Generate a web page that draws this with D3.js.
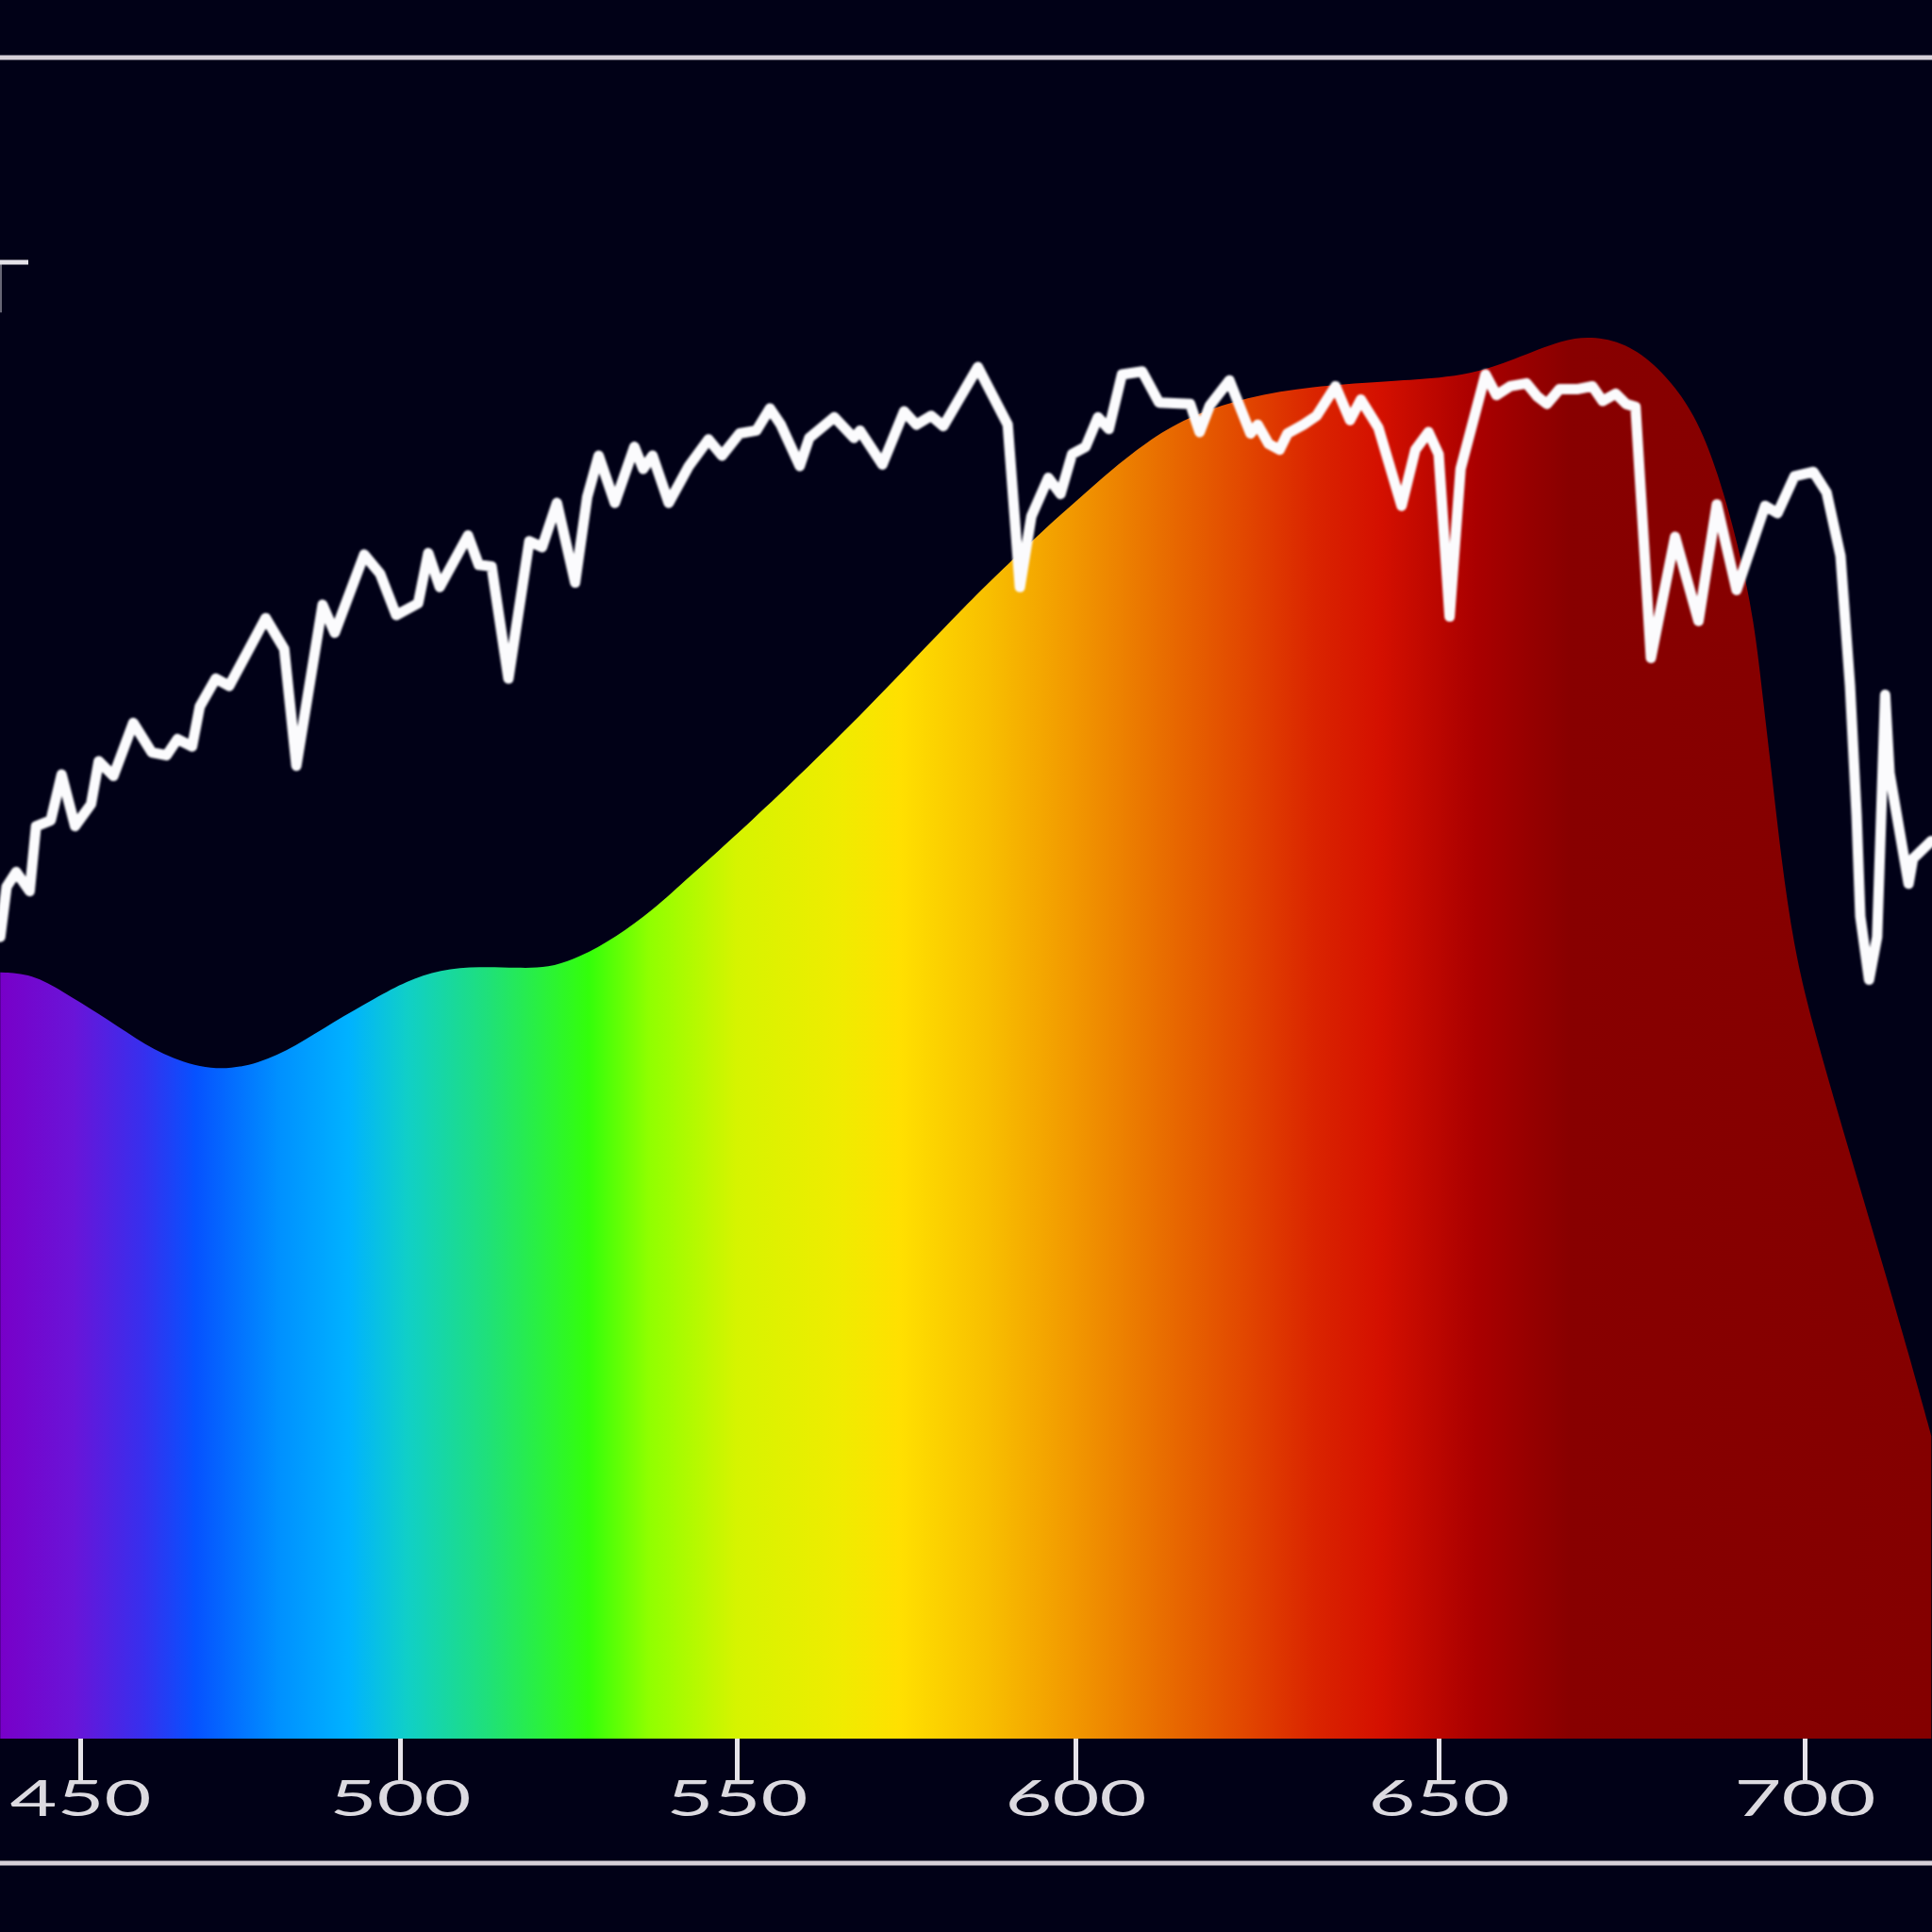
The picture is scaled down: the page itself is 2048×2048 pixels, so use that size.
<!DOCTYPE html>
<html>
<head>
<meta charset="utf-8">
<script src="https://cdn.jsdelivr.net/npm/d3@7"></script>
<style>
  html, body { margin: 0; padding: 0; background: #010117; }
  svg { display: block; }
</style>
</head>
<body>
<svg id="chart"></svg>
<script>
// wavelength ticks (nm) along the bottom axis
const tickWavelengths = [450, 500, 550, 600, 650, 700];

// solar spectrum (white line), relative intensity
const solarWavelengths = [
  437.5, 438.5, 440.0, 442.1, 443.1, 445.4, 447.1, 449.2, 451.7, 452.9,
  455.2, 458.3, 461.2, 463.5, 465.2, 467.5, 468.7, 471.2, 473.3, 479.0,
  481.9, 483.8, 487.9, 489.8, 494.4, 496.9, 499.4, 502.7, 504.2, 505.9,
  510.1, 511.7, 513.6, 516.1, 519.2, 521.1, 523.3, 526.0, 527.8, 529.5,
  531.9, 534.8, 536.1, 537.5, 539.9, 542.9, 545.8, 547.8, 550.4, 552.9,
  554.9, 556.5, 559.3, 560.7, 564.4, 567.3, 568.2, 571.5, 574.7, 576.5,
  578.7, 580.5, 585.6, 590.0, 591.8, 593.5, 596.0, 597.8, 599.5, 601.4,
  603.1, 604.6, 606.4, 609.2, 611.5, 615.8, 617.1, 618.5, 621.2, 624.1,
  625.1, 626.6, 628.1, 629.2, 631.4, 633.2, 635.8, 637.8, 639.3, 641.7,
  644.9, 646.8, 648.6, 650.0, 651.5, 653.0, 656.4, 657.9, 659.8, 662.0,
  663.5, 664.8, 666.5, 668.9, 671.0, 672.4, 674.2, 675.6, 676.9, 679.0,
  682.3, 685.5, 688.0, 690.7, 694.6, 696.3, 698.6, 701.2, 703.0, 704.9,
  706.2, 707.1, 707.6, 708.8, 709.9, 711.0, 711.6, 714.2, 714.8, 717.3
];
const solarIntensity = [
  54.3, 57.7, 58.7, 57.4, 61.8, 62.2, 65.3, 61.8, 63.3, 66.2,
  65.2, 68.8, 66.8, 66.6, 67.7, 67.2, 69.9, 71.8, 71.3, 75.9,
  73.8, 65.9, 76.8, 74.9, 80.2, 78.9, 76.1, 76.9, 80.3, 78.0,
  81.5, 79.5, 79.4, 71.8, 81.1, 80.7, 83.7, 78.3, 84.1, 86.9,
  83.7, 87.5, 86.0, 86.9, 83.7, 86.2, 88.0, 86.9, 88.4, 88.6,
  90.1, 89.0, 86.2, 88.1, 89.5, 88.1, 88.6, 86.3, 89.9, 89.0,
  89.6, 88.9, 92.9, 89.0, 78.0, 82.8, 85.4, 84.3, 87.0, 87.5,
  89.5, 88.7, 92.4, 92.6, 90.5, 90.4, 88.5, 90.3, 92.0, 88.4,
  89.0, 87.7, 87.3, 88.4, 89.0, 89.6, 91.6, 89.3, 90.7, 88.8,
  83.5, 87.3, 88.5, 87.0, 76.0, 86.0, 92.4, 91.0, 91.6, 91.8,
  90.9, 90.4, 91.4, 91.4, 91.6, 90.6, 91.1, 90.4, 90.2, 73.2,
  81.4, 75.7, 83.6, 77.8, 83.5, 83.0, 85.5, 85.8, 84.4, 80.1,
  71.3, 62.5, 55.7, 51.4, 54.3, 70.7, 65.4, 57.9, 59.6, 60.8
];

// filled colour band (smooth curve), relative intensity
const bandWavelengths = [
  437.5, 442.5, 447.3, 452.9, 458.7, 464.4, 471.3, 477.9, 483.7, 489.4,
  496.3, 500.9, 505.9, 511.9, 517.4, 522.0, 526.6, 532.1, 537.5, 543.0,
  550.4, 557.8, 568.5, 577.6, 586.0, 590.4, 595.8, 600.3, 604.6, 609.7,
  615.3, 623.6, 632.7, 642.0, 648.6, 654.4, 660.3, 667.0, 671.4, 676.1,
  680.5, 685.0, 688.2, 690.9, 693.1, 694.4, 695.5, 696.8, 698.5, 700.8,
  705.9, 710.9, 714.3, 717.3
];
const bandIntensity = [
  51.9, 51.8, 50.6, 49.1, 47.4, 46.0, 45.2, 45.7, 46.9, 48.5,
  50.2, 51.3, 52.1, 52.3, 52.2, 52.2, 52.9, 54.3, 56.1, 58.4,
  61.4, 64.6, 69.4, 73.8, 77.8, 79.7, 82.1, 83.9, 85.8, 87.8,
  89.5, 90.9, 91.6, 91.9, 92.1, 92.4, 93.4, 94.8, 95.0, 94.4,
  92.7, 89.8, 85.7, 80.9, 75.8, 70.0, 65.4, 59.6, 53.7, 48.8,
  40.1, 31.7, 25.9, 20.5
];

const width = 2048;
const height = 2048;
const baseY = 1843;

// the printed axis is not evenly spaced, so map each tick to its place
const x = d3.scaleLinear()
  .domain(tickWavelengths)
  .range([85, 424, 781, 1140, 1525, 1913]);

const y = d3.scaleLinear().domain([0, 100]).range([baseY, 278]);

const svg = d3.select("#chart")
  .attr("width", width)
  .attr("height", height)
  .attr("viewBox", [0, 0, width, height].join(" "));

svg.append("rect")
  .attr("width", width)
  .attr("height", height)
  .attr("fill", "#010117");

// rainbow gradient across wavelengths
const spectrumStops = [
  [437.5, "#7800c8"], [449, "#6a14d8"], [460, "#3630ee"], [468, "#0652ff"],
  [481, "#0090ff"], [492, "#00b2ff"], [501, "#10cfc8"], [513, "#1fe07a"],
  [528, "#33ff0a"], [537, "#90ff00"], [550, "#d6f400"], [565, "#efec00"],
  [574, "#ffe000"], [587, "#f8bf00"], [599, "#f29a00"], [613, "#e86a00"],
  [623, "#e24800"], [633, "#da2400"], [642, "#d41000"], [655, "#aa0000"],
  [668, "#880000"], [717.3, "#840000"]
];

const defs = svg.append("defs");
const grad = defs.append("linearGradient")
  .attr("id", "spectrum")
  .attr("gradientUnits", "userSpaceOnUse")
  .attr("x1", 0).attr("x2", width)
  .attr("y1", 0).attr("y2", 0);

grad.selectAll("stop")
  .data(spectrumStops)
  .enter()
  .append("stop")
  .attr("offset", (d) => Math.max(0, Math.min(1, x(d[0]) / width)))
  .attr("stop-color", (d) => d[1]);

const soft = defs.append("filter").attr("id", "soft");
soft.append("feGaussianBlur").attr("stdDeviation", 1.2);

// frame lines
svg.append("g")
  .selectAll("line")
  .data([61, 1975])
  .enter()
  .append("line")
  .attr("x1", 0)
  .attr("x2", width)
  .attr("y1", (d) => d)
  .attr("y2", (d) => d)
  .attr("stroke", "#d6d0d8")
  .attr("stroke-width", 5);

// colour band
const band = bandWavelengths.map((w, i) => ({ w, v: bandIntensity[i] }));
const area = d3.area()
  .x((d) => x(d.w))
  .y0(baseY)
  .y1((d) => y(d.v))
  .curve(d3.curveBasis);

svg.append("path")
  .datum(band)
  .attr("d", area)
  .attr("fill", "url(#spectrum)");

// solar spectrum line
const solar = solarWavelengths.map((w, i) => ({ w, v: solarIntensity[i] }));
const line = d3.line()
  .x((d) => x(d.w))
  .y((d) => y(d.v));

svg.append("path")
  .datum(solar)
  .attr("d", line)
  .attr("fill", "none")
  .attr("stroke", "#fbfbfd")
  .attr("stroke-width", 11)
  .attr("stroke-linejoin", "round")
  .attr("stroke-linecap", "round")
  .attr("filter", "url(#soft)");

// left y tick (axis itself sits just off the picture)
const yTick = svg.append("g").attr("stroke", "#e4e2e8");
yTick.append("line")
  .attr("x1", 0).attr("x2", 30)
  .attr("y1", y(100)).attr("y2", y(100))
  .attr("stroke-width", 5);
yTick.append("line")
  .attr("x1", 1).attr("x2", 1)
  .attr("y1", y(100)).attr("y2", y(96.6))
  .attr("stroke-width", 2)
  .attr("opacity", 0.45);

// bottom axis
const xAxis = svg.append("g")
  .attr("transform", `translate(0,${baseY})`)
  .call(
    d3.axisBottom(x)
      .tickValues(tickWavelengths)
      .tickSize(44)
      .tickFormat(d3.format("d"))
  );

xAxis.select(".domain").remove();
xAxis.selectAll(".tick line")
  .attr("stroke", "#e6e4ea")
  .attr("stroke-width", 5);
xAxis.selectAll(".tick text")
  .attr("y", 82)
  .attr("dy", 0)
  .attr("fill", "#dcdae0")
  .attr("font-family", "Lato, 'DejaVu Sans', sans-serif")
  .attr("font-size", 52)
  .attr("textLength", 150)
  .attr("lengthAdjust", "spacingAndGlyphs");
</script>
</body>
</html>
